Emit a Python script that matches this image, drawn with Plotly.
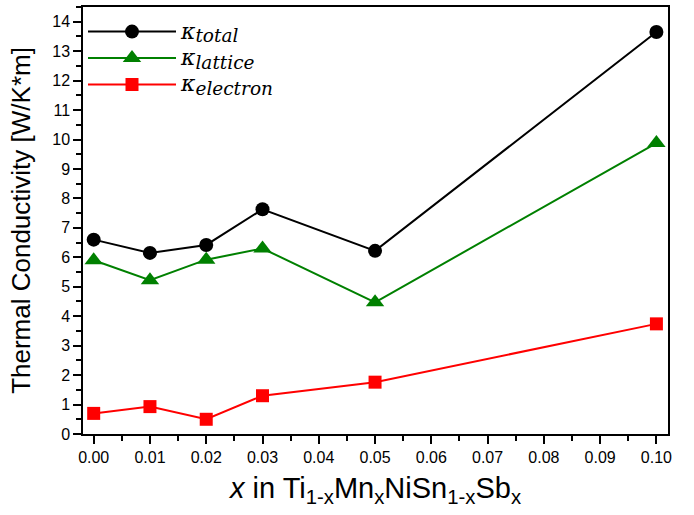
import plotly.graph_objects as go

x_vals = [0.00, 0.01, 0.02, 0.03, 0.05, 0.10]
k_total = [6.60, 6.15, 6.42, 7.63, 6.22, 13.65]
k_lattice = [5.90, 5.22, 5.92, 6.30, 4.47, 9.88]
k_electron = [0.70, 0.93, 0.50, 1.30, 1.76, 3.74]

x_ticks = [0.00, 0.01, 0.02, 0.03, 0.04, 0.05, 0.06, 0.07, 0.08, 0.09, 0.10]
x_ticklabels = ["0.00", "0.01", "0.02", "0.03", "0.04", "0.05", "0.06", "0.07", "0.08", "0.09", "0.10"]
y_ticks = list(range(0, 15))

subs = ["total", "lattice", "electron"]
names = [
    "<span style='font-size:22px'><i>κ</i></span><sub><span style='font-size:18.5px'><i>%s</i></span></sub>" % s
    for s in subs
]
colors = ["#000000", "#008000", "#ff0000"]
symbols = ["circle", "triangle-up", "square"]
sizes = [14, 16, 13]

fig = go.Figure()
for yv, nm, c, s, sz in zip([k_total, k_lattice, k_electron], names, colors, symbols, sizes):
    fig.add_trace(go.Scatter(
        x=x_vals, y=yv, name=nm, mode="lines+markers",
        line=dict(color=c, width=2),
        marker=dict(color=c, symbol=s, size=sz, line=dict(width=0)),
    ))

axis_font = dict(family="Arial, Liberation Sans", size=16, color="black")

fig.update_layout(
    width=694, height=515,
    margin=dict(l=83, r=26, t=5, b=81),
    paper_bgcolor="white", plot_bgcolor="white",
    showlegend=True,
    legend=dict(
        x=0.0, y=0.985, xanchor="left", yanchor="top",
        bgcolor="rgba(0,0,0,0)",
        font=dict(family="DejaVu Serif, serif", size=18, color="black"),
        itemwidth=88,
        tracegroupgap=0,
    ),
    xaxis=dict(
        range=[-0.0019, 0.10206],
        tickmode="array", tickvals=x_ticks, ticktext=x_ticklabels,
        ticks="outside", ticklen=8, tickwidth=1.5, tickcolor="black",
        minor=dict(dtick=0.005, tick0=0, ticks="outside", ticklen=5, tickwidth=1.5, tickcolor="black"),
        showline=True, linecolor="black", linewidth=1.5, mirror=True,
        showgrid=False, zeroline=False,
        tickfont=axis_font,
        title=dict(
            text="<i>x</i> in Ti<sub>1-x</sub>Mn<sub>x</sub>NiSn<sub>1-x</sub>Sb<sub>x</sub>",
            font=dict(family="Liberation Sans Narrow, Arial Narrow, Arial", size=29, color="black"),
            standoff=13,
        ),
    ),
    yaxis=dict(
        range=[0, 14.5],
        tickmode="array", tickvals=y_ticks,
        ticks="outside", ticklen=8, tickwidth=1.5, tickcolor="black",
        minor=dict(dtick=0.5, tick0=0, ticks="outside", ticklen=5, tickwidth=1.5, tickcolor="black"),
        showline=True, linecolor="black", linewidth=1.5, mirror=True,
        showgrid=False, zeroline=False,
        tickfont=axis_font,
        title=dict(
            text="Thermal Conductivity [W/K*m]",
            font=dict(family="Arial, Liberation Sans", size=26, color="black"),
            standoff=14,
        ),
    ),
    xaxis2=dict(
        overlaying="x", side="top", anchor="y", range=[0, 10],
        tickmode="linear", tick0=0, dtick=1,
        ticks="inside", ticklen=10, tickwidth=1.5, tickcolor="black",
        showticklabels=False, showline=False, showgrid=False, zeroline=False,
    ),
    yaxis2=dict(
        overlaying="y", side="right", anchor="x", range=[0, 10],
        tickmode="linear", tick0=0, dtick=1,
        ticks="inside", ticklen=7, tickwidth=1.5, tickcolor="black",
        showticklabels=False, showline=False, showgrid=False, zeroline=False,
    ),
)

fig.write_html(
    "out.html",
    config={"displayModeBar": False},
    post_script="document.body.style.margin='0px';",
)
